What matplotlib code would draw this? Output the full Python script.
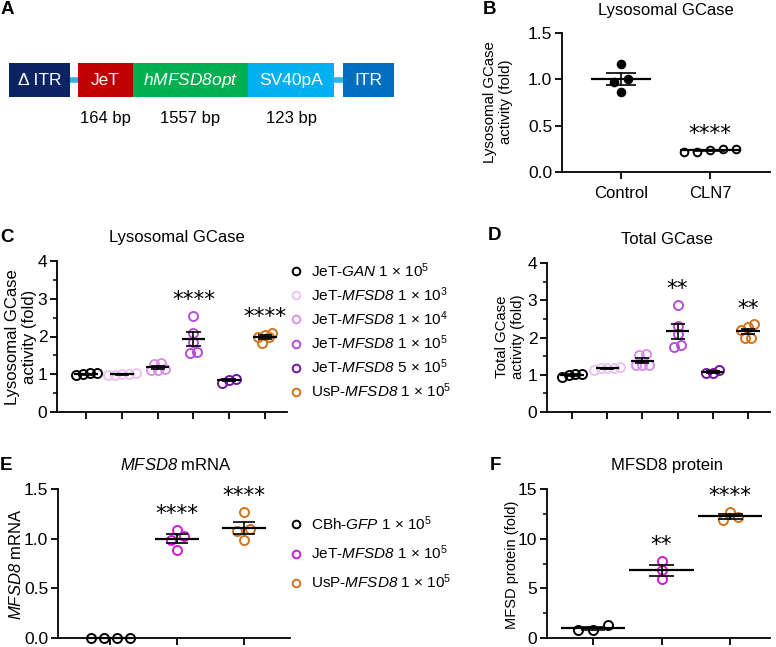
import numpy as np
import matplotlib
matplotlib.use("Agg")
import matplotlib.pyplot as plt
from matplotlib.patches import Rectangle
from matplotlib.lines import Line2D

plt.rcParams['font.family'] = ['Liberation Sans', 'DejaVu Sans']
plt.rcParams['mathtext.fontset'] = 'custom'
plt.rcParams['mathtext.rm'] = 'Liberation Sans'
plt.rcParams['mathtext.it'] = 'Liberation Sans:italic'
plt.rcParams['mathtext.sf'] = 'Liberation Sans:italic'
plt.rcParams['mathtext.bf'] = 'Liberation Sans:bold'

# ---------------- DATA ----------------
# Panel A construct
a_segments = ["Δ ITR", "JeT", "$\\mathsf{hMFSD8opt}$", "SV40pA", "ITR"]
a_bp_labels = ["164 bp", "1557 bp", "123 bp"]

# Panel B
b_groups = ["Control", "CLN7"]
b_control = [1.17, 1.00, 0.97, 0.86]
b_cln7 = [0.22, 0.25, 0.24, 0.25, 0.22]
b_sig = ["", "****"]

# Panel C  (lysosomal GCase)
c_labels = ["JeT-$\\mathsf{GAN}$ 1 × 10$^{5}$",
            "JeT-$\\mathsf{MFSD8}$ 1 × 10$^{3}$",
            "JeT-$\\mathsf{MFSD8}$ 1 × 10$^{4}$",
            "JeT-$\\mathsf{MFSD8}$ 1 × 10$^{5}$",
            "JeT-$\\mathsf{MFSD8}$ 5 × 10$^{5}$",
            "UsP-$\\mathsf{MFSD8}$ 1 × 10$^{5}$"]
c_gan = [0.97, 1.00, 1.02, 1.02]
c_m1e3 = [1.01, 1.00, 1.02, 0.97, 0.99]
c_m1e4 = [1.28, 1.29, 1.12, 1.10, 1.13]
c_m1e5 = [2.54, 2.10, 1.85, 1.57, 1.60]
c_m5e5 = [0.78, 0.86, 0.87]
c_usp = [2.08, 2.05, 2.00, 1.83, 1.98]
c_sig = ["", "", "", "****", "", "****"]

# Panel D  (total GCase)
d_gan = [0.94, 1.02, 0.99, 1.02]
d_m1e3 = [1.18, 1.20, 1.17, 1.12, 1.18]
d_m1e4 = [1.55, 1.25, 1.27, 1.52, 1.26]
d_m1e5 = [2.88, 2.30, 2.10, 1.74, 1.80]
d_m5e5 = [1.04, 1.12, 1.05]
d_usp = [2.35, 2.28, 2.20, 2.00, 1.98]
d_sig = ["", "", "", "**", "", "**"]

# Panel E (MFSD8 mRNA)
e_labels = ["CBh-$\\mathsf{GFP}$ 1 × 10$^{5}$",
            "JeT-$\\mathsf{MFSD8}$ 1 × 10$^{5}$",
            "UsP-$\\mathsf{MFSD8}$ 1 × 10$^{5}$"]
e_gfp = [0.0, 0.0, 0.0, 0.0]
e_jet = [1.03, 1.09, 0.99, 0.89]
e_usp = [1.27, 1.10, 1.08, 0.99]
e_sig = ["", "****", "****"]

# Panel F (MFSD8 protein)
f_gfp = [0.85, 1.30, 0.85]
f_jet = [7.80, 6.80, 5.90]
f_usp = [12.70, 11.90, 12.15]
f_sig = ["", "**", "****"]

# ---------------- STYLE ----------------
W, H = 776, 647
fig = plt.figure(figsize=(W / 100, H / 100), dpi=100)

col_c = ["#000000", "#EEC3F3", "#DA8FE9", "#B54FD8", "#7512A5", "#D5731C"]
col_e = ["#000000", "#D21AD2", "#D5731C"]
TICK_FS = 12.5
TITLE_FS = 12


def fx(x):
    return x / W


def fy(y):
    return 1 - y / H


def add_ax(l, t, r, b):
    ax = fig.add_axes([l / W, 1 - b / H, (r - l) / W, (b - t) / H])
    for s in ["top", "right"]:
        ax.spines[s].set_visible(False)
    for s in ["left", "bottom"]:
        ax.spines[s].set_linewidth(1.3)
    ax.tick_params(axis="both", which="major", length=5, width=1.3,
                   labelsize=TICK_FS, pad=2)
    ax.tick_params(axis="both", which="minor", length=3, width=1.1)
    ax.patch.set_alpha(0)
    return ax


def swarm_offsets(vals, ax, spacing_px, thresh_px=6.0):
    vals = np.asarray(vals, float)
    bbox = ax.get_window_extent()
    ylo, yhi = ax.get_ylim()
    xlo, xhi = ax.get_xlim()
    ppu_y = bbox.height / (yhi - ylo)
    ppu_x = bbox.width / (xhi - xlo)
    order = np.argsort(vals, kind="stable")
    clusters = []
    for i in order:
        if clusters and (vals[i] - vals[clusters[-1][0]]) * ppu_y < thresh_px:
            clusters[-1].append(i)
        else:
            clusters.append([i])
    offs = np.zeros(len(vals))
    for cl in clusters:
        n = len(cl)
        for k, i in enumerate(cl):
            offs[i] = (k - (n - 1) / 2) * spacing_px / ppu_x
    return offs


def dot_group(ax, x, vals, color, spacing_px, filled=False, ms=6.5,
              mean_hw=0.33, cap_hw=0.18):
    vals = np.asarray(vals, float)
    offs = swarm_offsets(vals, ax, spacing_px)
    ax.plot(x + offs, vals, "o", ms=ms, mew=1.4, mec=color,
            mfc=color if filled else "none", ls="none", zorder=3,
            clip_on=False)
    m = vals.mean()
    sem = vals.std(ddof=1) / np.sqrt(len(vals))
    ax.plot([x - mean_hw, x + mean_hw], [m, m], color="black", lw=1.6,
            zorder=4, solid_capstyle="butt", clip_on=False)
    ax.plot([x, x], [m - sem, m + sem], color="black", lw=1.2, zorder=4,
            clip_on=False)
    for yy in (m - sem, m + sem):
        ax.plot([x - cap_hw, x + cap_hw], [yy, yy], color="black", lw=1.2,
                zorder=4, solid_capstyle="butt", clip_on=False)


def add_stars(ax, groups, sigs):
    lo, hi = ax.get_ylim()
    for i, (vals, s) in enumerate(zip(groups, sigs)):
        if s:
            ax.text(i, max(vals) + 0.107 * (hi - lo), s, ha="center",
                    va="center", fontsize=15.5, family="DejaVu Sans",
                    zorder=5)


def panel_letter(x, y, s):
    fig.text(fx(x), fy(y), s, fontsize=13.5, fontweight="bold",
             ha="center", va="center")


def ylabel(x, y, s, fs):
    fig.text(fx(x), fy(y), s, fontsize=fs, rotation=90, ha="center",
             va="center", multialignment="center", linespacing=1.1)


# ---------------- PANEL A ----------------
axA = fig.add_axes([0, 0, 1, 1])
axA.set_xlim(0, W)
axA.set_ylim(H, 0)
axA.axis("off")
box_x = [(9, 70), (78, 133), (133, 248), (248, 334), (343, 394)]
box_c = ["#0B2463", "#C00000", "#00B050", "#00B0F0", "#0070C0"]
axA.plot([70, 78], [80, 80], color="#2AB4EE", lw=4, solid_capstyle="butt")
axA.plot([334, 343], [80, 80], color="#2AB4EE", lw=4, solid_capstyle="butt")
for (x0, x1), c, lab in zip(box_x, box_c, a_segments):
    axA.add_patch(Rectangle((x0, 63), x1 - x0, 34, facecolor=c,
                            edgecolor="none"))
    axA.text((x0 + x1) / 2, 80.5, lab, color="white", fontsize=12.5,
             ha="center", va="center")
for (x0, x1), lab in zip(box_x[1:4], a_bp_labels):
    axA.text((x0 + x1) / 2, 119, lab, fontsize=12, ha="center",
             va="center")
panel_letter(7, 10, "A")

# ---------------- PANEL B ----------------
axB = add_ax(562, 33, 770, 172)
axB.set_ylim(0, 1.5)
axB.set_xlim(-0.663, 1.674)
axB.set_yticks([0, 0.5, 1.0, 1.5])
axB.set_yticklabels(["0.0", "0.5", "1.0", "1.5"])
axB.set_xticks([0, 1])
axB.set_xticklabels(b_groups, fontsize=12)
axB.tick_params(axis="x", pad=5)
dot_group(axB, 0, b_control, "black", 14, filled=True, ms=5.5,
          mean_hw=0.34, cap_hw=0.17)
dot_group(axB, 1, b_cln7, "black", 13, ms=5.5, mean_hw=0.34, cap_hw=0.17)
add_stars(axB, [b_control, b_cln7], b_sig)
axB.set_title("Lysosomal GCase", fontsize=TITLE_FS, pad=13)
panel_letter(489, 10, "B")
ylabel(498, 102, "Lysosomal GCase\nactivity (fold)", 10.8)

# ---------------- PANEL C ----------------
c_groups = [c_gan, c_m1e3, c_m1e4, c_m1e5, c_m5e5, c_usp]
axC = add_ax(57, 261, 287, 412)
axC.set_ylim(0, 4)
axC.set_xlim(-0.81, 5.61)
axC.set_yticks([0, 1, 2, 3, 4])
axC.set_yticks(np.arange(0, 4.01, 0.5), minor=True)
axC.set_xticks(range(len(c_groups)))
axC.set_xticklabels([])
for i, (v, c) in enumerate(zip(c_groups, col_c)):
    dot_group(axC, i, v, c, 7, mean_hw=0.33, cap_hw=0.2)
add_stars(axC, c_groups, c_sig)
axC.set_title("Lysosomal GCase", fontsize=TITLE_FS, pad=14, x=0.52)
panel_letter(7, 238, "C")
ylabel(21, 337, "Lysosomal GCase\nactivity (fold)", 12)

handles_c = [Line2D([], [], marker="o", ls="none", ms=5.5, mew=1.4, mec=c,
                    mfc="none") for c in col_c]
fig.legend(handles_c, c_labels, loc="upper left",
           bbox_to_anchor=(fx(290), fy(261)), frameon=False, fontsize=11,
           handlelength=0.8, handletextpad=0.6, labelspacing=0.36,
           borderpad=0, borderaxespad=0)

# ---------------- PANEL D ----------------
d_groups = [d_gan, d_m1e3, d_m1e4, d_m1e5, d_m5e5, d_usp]
axD = add_ax(547, 263, 770, 412)
axD.set_ylim(0, 4)
axD.set_xlim(-0.71, 5.625)
axD.set_yticks([0, 1, 2, 3, 4])
axD.set_yticks(np.arange(0, 4.01, 0.5), minor=True)
axD.set_xticks(range(len(d_groups)))
axD.set_xticklabels([])
for i, (v, c) in enumerate(zip(d_groups, col_c)):
    dot_group(axD, i, v, c, 6.5, mean_hw=0.33, cap_hw=0.2)
add_stars(axD, d_groups, d_sig)
axD.set_title("Total GCase", fontsize=TITLE_FS, pad=14, x=0.538)
panel_letter(495, 236, "D")
ylabel(510, 337, "Total GCase\nactivity (fold)", 10.8)

# ---------------- PANEL E ----------------
e_groups = [e_gfp, e_jet, e_usp]
axE = add_ax(58, 489, 290, 638)
axE.set_ylim(0, 1.5)
axE.set_xlim(-0.78, 2.69)
axE.set_yticks([0, 0.5, 1.0, 1.5])
axE.set_yticklabels(["0.0", "0.5", "1.0", "1.5"])
axE.set_xticks(range(3))
axE.set_xticklabels([])
for i, (v, c) in enumerate(zip(e_groups, col_e)):
    dot_group(axE, i, v, c, 13, mean_hw=0.33, cap_hw=0.16)
add_stars(axE, e_groups, e_sig)
axE.set_title("$\\mathsf{MFSD8}$ mRNA", fontsize=TITLE_FS, pad=14, x=0.509)
panel_letter(6, 465, "E")
ylabel(16, 564, "$\\mathsf{MFSD8}$ mRNA", 12)

handles_e = [Line2D([], [], marker="o", ls="none", ms=5.5, mew=1.4, mec=c,
                    mfc="none") for c in col_e]
fig.legend(handles_e, e_labels, loc="upper left",
           bbox_to_anchor=(fx(290), fy(514)), frameon=False, fontsize=11,
           handlelength=0.8, handletextpad=0.6, labelspacing=0.7,
           borderpad=0, borderaxespad=0)

# ---------------- PANEL F ----------------
f_groups = [f_gfp, f_jet, f_usp]
axF = add_ax(547, 489, 770, 638)
axF.set_ylim(0, 15)
axF.set_xlim(-0.67, 2.58)
axF.set_yticks([0, 5, 10, 15])
axF.set_yticks(np.arange(0, 15.01, 2.5), minor=True)
axF.set_xticks(range(3))
axF.set_xticklabels([])
for i, (v, c) in enumerate(zip(f_groups, col_e)):
    dot_group(axF, i, v, c, 15, mean_hw=0.47, cap_hw=0.18)
add_stars(axF, f_groups, f_sig)
axF.set_title("MFSD8 protein", fontsize=TITLE_FS, pad=14, x=0.538)
panel_letter(495, 465, "F")
ylabel(512, 565, "MFSD protein (fold)", 10.5)

fig.savefig("out.png", dpi=100)
